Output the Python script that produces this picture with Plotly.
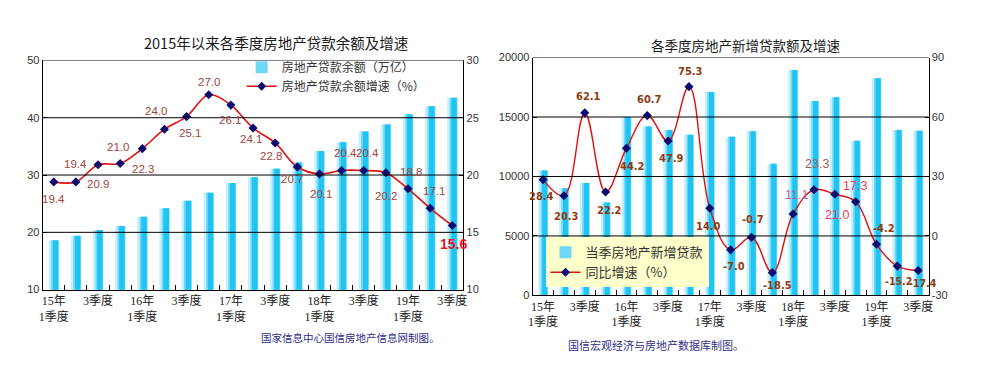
import plotly.graph_objects as go

# ---------------- data ----------------
quarters = ["2015Q1", "2015Q2", "2015Q3", "2015Q4", "2016Q1", "2016Q2", "2016Q3", "2016Q4",
            "2017Q1", "2017Q2", "2017Q3", "2017Q4", "2018Q1", "2018Q2", "2018Q3", "2018Q4",
            "2019Q1", "2019Q2", "2019Q3"]
tick_labels = ["15年<br>1季度", "", "3季度", "", "16年<br>1季度", "", "3季度", "",
               "17年<br>1季度", "", "3季度", "", "18年<br>1季度", "", "3季度", "",
               "19年<br>1季度", "", "3季度"]
# left chart: real-estate loan balance (trillion yuan) and growth (%)
loan_balance = [18.6, 19.4, 20.4, 21.1, 22.7, 24.2, 25.5, 26.9, 28.6, 29.6,
                31.1, 32.2, 34.2, 35.7, 37.6, 38.8, 40.6, 42.0, 43.5]
balance_growth = [19.4, 19.4, 20.9, 21.0, 22.3, 24.0, 25.1, 27.0, 26.1, 24.1,
                  22.8, 20.7, 20.1, 20.4, 20.4, 20.2, 18.8, 17.1, 15.6]
# right chart: new real-estate loans per quarter and YoY growth (%)
new_loans = [10500, 9000, 9450, 7820, 15000, 14200, 13900, 13500, 17100, 13350,
             13800, 11080, 18950, 16350, 16670, 13000, 18250, 13900, 13850]
new_growth = [28.4, 20.3, 62.1, 22.2, 44.2, 60.7, 47.9, 75.3, 14.0, -7.0,
              -0.7, -18.5, 11.1, 23.3, 21.0, 17.3, -4.2, -15.2, -17.4]

left_y_ticks = [10, 20, 30, 40, 50]
left_y2_ticks = [10, 15, 20, 25, 30]
right_y_ticks = [0, 5000, 10000, 15000, 20000]
right_y2_ticks = [-30, 0, 30, 60, 90]

left_title = "2015年以来各季度房地产贷款余额及增速"
right_title = "各季度房地产新增贷款额及增速"
left_names = ["房地产贷款余额（万亿）", "房地产贷款余额增速（%）"]
right_names = ["当季房地产新增贷款", "同比增速（%）"]
left_source = "国家信息中心国信房地产信息网制图。"
right_source = "国信宏观经济与房地产数据库制图。"

# ---------------- styles ----------------
SANS = "Liberation Sans, Arial, Noto Sans CJK SC"
CJK = "Noto Sans CJK SC, Liberation Sans"
TICKF = "Liberation Serif, Noto Sans CJK SC"
NARROW = "Liberation Sans Narrow, Arial Narrow, DejaVu Sans Condensed, Liberation Sans"

grad = [  # (offset, width, color) to imitate the horizontal bar gradient
    (-0.23, 0.46, "#C4EFFC"),
    (-0.12, 0.35, "#6FD8F7"),
    (-0.04, 0.24, "#1EC4F2"),
]

# label offsets (pixels): dx right, dy down
left_off = [(0, 17), (0, -18), (0, 19), (-2, -17), (1, 20), (-8, -18), (3, 16), (0, -13),
            (-1, 15), (-2, 11), (-4, 13), (-5, 12), (2, 20), (4, -17), (4, -17), (0, 23),
            (3, -17), (4, -17), (1, 19)]
right_off = [(-2, 17), (3, 21), (4, -16), (4, 19), (6, 18), (2, -16), (3, 18), (2, -15),
             (-1, 18), (3, 17), (2, -18), (5, 13), (3, -19), (3, -26), (2, 21), (-1, -16),
             (8, -16), (1, 15), (5, 13)]
BOLD_BROWN = dict(color="#8E3A10", size=11, family=NARROW, weight="bold")
BOLD_BROWN_S = dict(color="#8E3A10", size=10.5, family=NARROW, weight="bold")
right_style = [BOLD_BROWN] * 12 + [
    dict(color="#A07090", size=12.5, family=SANS),
    dict(color="#A06060", size=12.5, family=SANS),
    dict(color="#E8405A", size=12.5, family=SANS),
    dict(color="#E8405A", size=12.5, family=SANS),
] + [BOLD_BROWN, BOLD_BROWN_S, BOLD_BROWN_S]

fig = go.Figure()

# ---------------- left chart ----------------
for k, (off, w, col) in enumerate(grad):
    fig.add_trace(go.Bar(
        x=quarters, y=loan_balance, xaxis="x", yaxis="y",
        offset=off, width=w, marker=dict(color=col, line=dict(width=0)),
        name=left_names[0], showlegend=(k == 1), legend="legend", hoverinfo="skip"))
fig.add_trace(go.Scatter(
    x=quarters, y=balance_growth, xaxis="x", yaxis="y2", mode="lines+markers",
    line=dict(color="#E01010", width=1.6, shape="spline", smoothing=1.0),
    marker=dict(symbol="diamond", size=7, color="#0A0A70"),
    name=left_names[1], legend="legend"))

# ---------------- right chart ----------------
for k, (off, w, col) in enumerate(grad):
    fig.add_trace(go.Bar(
        x=quarters, y=new_loans, xaxis="x2", yaxis="y3",
        offset=off, width=w, marker=dict(color=col, line=dict(width=0)),
        name=right_names[0], showlegend=(k == 1), legend="legend2", hoverinfo="skip"))
fig.add_trace(go.Scatter(
    x=quarters, y=new_growth, xaxis="x2", yaxis="y4", mode="lines+markers",
    line=dict(color="#E01010", width=1.4, shape="spline", smoothing=1.1),
    marker=dict(symbol="diamond", size=7, color="#0A0A70"),
    name=right_names[1], legend="legend2"))

annotations = []
for i, (q, v) in enumerate(zip(quarters, balance_growth)):
    dx, dy = left_off[i]
    last = i == len(quarters) - 1
    font = (dict(color="#E8141E", size=14, family=SANS, weight="bold") if last
            else dict(color="#A0453A", size=11.5, family=SANS))
    annotations.append(dict(x=q, y=v, xref="x", yref="y2", text=f"{v:.1f}",
                            showarrow=False, xshift=dx, yshift=-dy, font=font,
                            xanchor="center", yanchor="middle"))
for i, (q, v) in enumerate(zip(quarters, new_growth)):
    dx, dy = right_off[i]
    annotations.append(dict(x=q, y=v, xref="x2", yref="y4", text=f"{v:.1f}",
                            showarrow=False, xshift=dx, yshift=-dy, font=right_style[i],
                            xanchor="center", yanchor="middle"))

def paper_text(text, px, py, font):
    return dict(x=px / 982, y=1 - py / 365, xref="paper", yref="paper", text=text,
                showarrow=False, xanchor="center", yanchor="middle", font=font)

annotations += [
    paper_text(left_title, 266, 29, dict(family=CJK, size=14.5, color="#1A1A1A")),
    paper_text(right_title, 740, 32, dict(family=CJK, size=13.5, color="#1A1A1A")),
    paper_text(left_source, 341, 335, dict(family=CJK, size=10.5, color="#2E2E8C")),
    paper_text(right_source, 650, 342, dict(family=CJK, size=11, color="#2E2E8C")),
]

shapes = []
# gridlines drawn over the bars
for v in left_y_ticks[1:-1]:
    shapes.append(dict(type="line", xref="x domain", yref="y", x0=0, x1=1, y0=v, y1=v,
                       line=dict(color="black", width=1), layer="above"))
for v in right_y_ticks[1:-1]:
    shapes.append(dict(type="line", xref="x2 domain", yref="y3", x0=0, x1=1, y0=v, y1=v,
                       line=dict(color="black", width=1), layer="above"))
# grey top border of each plot
shapes.append(dict(type="line", xref="x domain", yref="y domain", x0=0, x1=1, y0=1, y1=1,
                   line=dict(color="#808080", width=1), layer="above"))
shapes.append(dict(type="line", xref="x2 domain", yref="y3 domain", x0=0, x1=1, y0=1, y1=1,
                   line=dict(color="#808080", width=1), layer="above"))

xcommon = dict(type="category", categoryorder="array", categoryarray=quarters,
               tickmode="array", tickvals=quarters, ticktext=tick_labels, tickangle=0,
               tickson="boundaries", ticks="inside", ticklen=5, tickcolor="black",
               showline=True, linecolor="black", linewidth=1, showgrid=False,
               range=[-0.5, len(quarters) - 0.5], zeroline=False,
               tickfont=dict(family=TICKF, size=12, color="#222"))
ycommon = dict(ticks="inside", ticklen=4, tickcolor="black", showline=True,
               linecolor="black", linewidth=1, showgrid=False, zeroline=False,
               tickfont=dict(family=SANS, size=11, color="#333"), tickmode="array",
               ticklabeloverflow="allow")

fig.update_layout(
    width=982, height=365, margin=dict(l=0, r=0, t=0, b=0),
    paper_bgcolor="white", plot_bgcolor="white",
    barmode="overlay", showlegend=True,
    xaxis=dict(xcommon, domain=[30 / 982, 455 / 982], anchor="y"),
    yaxis=dict(ycommon, domain=[1 - 285 / 365, 1 - 48 / 365], anchor="x",
               range=[10, 50], tickvals=left_y_ticks,
               ticktext=[str(v) for v in left_y_ticks]),
    yaxis2=dict(ycommon, overlaying="y", side="right", anchor="x",
                range=[10, 30], tickvals=left_y2_ticks,
                ticktext=[str(v) for v in left_y2_ticks]),
    xaxis2=dict(xcommon, domain=[525 / 982, 925 / 982], anchor="y3"),
    yaxis3=dict(ycommon, domain=[1 - 291 / 365, 1 - 45 / 365], anchor="x2",
                range=[0, 20000], tickvals=right_y_ticks,
                ticktext=[str(v) for v in right_y_ticks]),
    yaxis4=dict(ycommon, overlaying="y3", side="right", anchor="x2",
                range=[-30, 90], tickvals=right_y2_ticks,
                ticktext=[str(v) for v in right_y2_ticks]),
    legend=dict(x=231 / 982, y=1 - 40 / 365, xanchor="left", yanchor="top",
                bgcolor="rgba(255,255,255,0)", itemwidth=30, tracegroupgap=0,
                font=dict(family=CJK, size=12, color="#333")),
    legend2=dict(x=538 / 982, y=1 - 231 / 365, xanchor="left", yanchor="top",
                 bgcolor="#FFFFCC", itemwidth=30, tracegroupgap=0,
                 font=dict(family=CJK, size=13, color="#333")),
    annotations=annotations, shapes=shapes,
)

fig.write_html("out.html")
